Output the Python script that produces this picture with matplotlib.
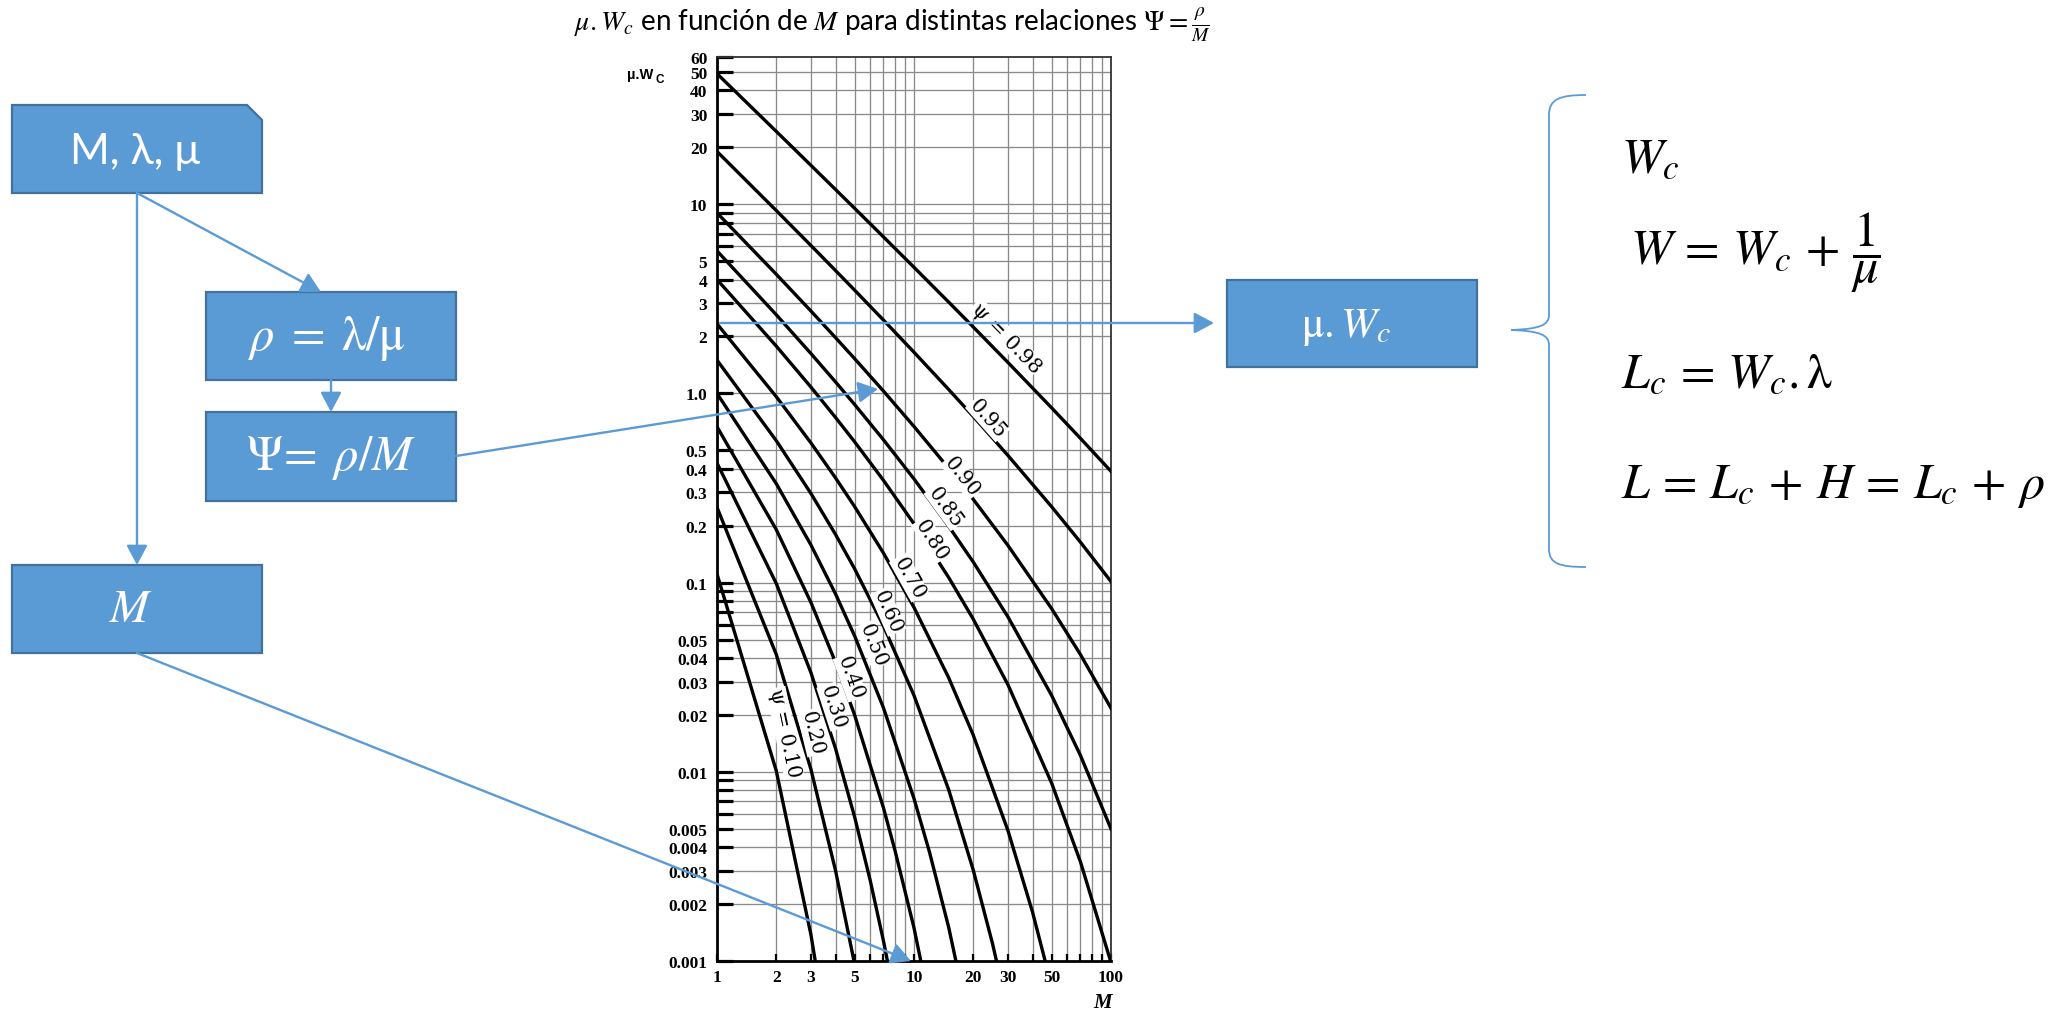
import math
import matplotlib
matplotlib.use("Agg")
import matplotlib.pyplot as plt
from matplotlib.patches import Rectangle, Polygon, PathPatch
from matplotlib.path import Path

plt.rcParams["mathtext.fontset"] = "stix"

# ---------------- data ----------------
psi_values = [0.98, 0.95, 0.90, 0.85, 0.80, 0.70, 0.60, 0.50, 0.40, 0.30, 0.20, 0.10]
psi_labels = ["ψ = 0.98", "0.95", "0.90", "0.85", "0.80", "0.70",
              "0.60", "0.50", "0.40", "0.30", "0.20", "ψ = 0.10"]

M_098 = [1, 2, 3, 4, 5, 7, 10, 15, 20, 30, 50, 70, 100]
W_098 = [49, 24.25, 16.04, 11.95, 9.503, 6.718, 4.641, 3.038, 2.243, 1.457, 0.8383, 0.5785, 0.3875]
M_095 = [1, 2, 3, 4, 5, 7, 10, 15, 20, 30, 50, 70, 100]
W_095 = [19, 9.256, 6.047, 4.457, 3.511, 2.441, 1.651, 1.049, 0.7554, 0.4697, 0.2516, 0.1635, 0.1013]
M_090 = [1, 2, 3, 4, 5, 7, 10, 15, 20, 30, 50, 70, 100]
W_090 = [9, 4.263, 2.724, 1.969, 1.525, 1.0285, 0.6687, 0.4017, 0.2754, 0.1571, 0.07277, 0.04164, 0.02170]
M_085 = [1, 2, 3, 4, 5, 7, 10, 15, 20, 30, 50, 70, 100]
W_085 = [5.667, 2.604, 1.623, 1.149, 0.8726, 0.5686, 0.3532, 0.1986, 0.1284, 0.06587, 0.02530, 0.01220, 0.004992]
M_080 = [1, 2, 3, 4, 5, 7, 10, 15, 20, 30, 50, 70, 100]
W_080 = [4, 1.778, 1.079, 0.7455, 0.5541, 0.3471, 0.2046, 0.1064, 0.06404, 0.02883, 0.008699, 0.003340, 0.000982]
M_070 = [1, 2, 3, 4, 5, 7, 10, 15, 20, 30, 40, 50]
W_070 = [2.333, 0.9608, 0.5470, 0.3572, 0.2519, 0.1432, 0.07391, 0.03141, 0.01561, 0.004884, 0.001808, 0.000735]
M_060 = [1, 2, 3, 4, 5, 7, 10, 15, 20, 25, 30]
W_060 = [1.5, 0.5625, 0.2956, 0.1794, 0.1181, 0.05895, 0.02533, 0.00804, 0.003018, 0.001243, 0.000544]
M_050 = [1, 2, 3, 4, 5, 7, 10, 12, 15, 20]
W_050 = [1.0, 0.3333, 0.1579, 0.08696, 0.05215, 0.02177, 0.007221, 0.003746, 0.001506, 0.000373]
M_040 = [1, 2, 3, 4, 5, 7, 8, 10, 12]
W_040 = [0.6667, 0.1905, 0.07843, 0.03779, 0.0199, 0.006443, 0.003853, 0.0014965, 0.000594]
M_030 = [1, 2, 3, 4, 5, 6, 7, 8]
W_030 = [0.4286, 0.0989, 0.03335, 0.01323, 0.005754, 0.002654, 0.001275, 0.000632]
M_020 = [1, 2, 3, 4, 5, 6]
W_020 = [0.25, 0.04167, 0.010274, 0.002994, 0.000958, 0.000325]
M_010 = [1, 2, 3, 4]
W_010 = [0.1111, 0.0101, 0.001372, 0.000221]

curves_M = [M_098, M_095, M_090, M_085, M_080, M_070, M_060, M_050, M_040, M_030, M_020, M_010]
curves_W = [W_098, W_095, W_090, W_085, W_080, W_070, W_060, W_050, W_040, W_030, W_020, W_010]

label_M = [29.3, 23.7, 17.5, 14.4, 12.3, 9.43, 7.38, 6.19, 4.73, 3.88, 3.03, 2.21]
label_W = [1.98, 0.738, 0.364, 0.252, 0.169, 0.1065, 0.0703, 0.047, 0.0315, 0.0221, 0.0161, 0.0161]

x_major = [1, 2, 3, 5, 10, 20, 30, 50, 100]
x_major_labels = ["1", "2", "3", "5", "10", "20", "30", "50", "100"]
x_minor = [4, 6, 7, 8, 9, 40, 60, 70, 80, 90]
x_grid = [2, 3, 4, 5, 6, 7, 8, 9, 10, 20, 30, 40, 50, 60, 70, 80, 90]

y_major = [60, 50, 40, 30, 20, 10, 5, 4, 3, 2, 1, 0.5, 0.4, 0.3, 0.2, 0.1,
           0.05, 0.04, 0.03, 0.02, 0.01, 0.005, 0.004, 0.003, 0.002, 0.001]
y_major_labels = ["60", "50", "40", "30", "20", "10", "5", "4", "3", "2", "1.0",
                  "0.5", "0.4", "0.3", "0.2", "0.1", "0.05", "0.04", "0.03", "0.02",
                  "0.01", "0.005", "0.004", "0.003", "0.002", "0.001"]
y_minor = [9, 8, 7, 6, 0.09, 0.08, 0.07, 0.06, 0.009, 0.008, 0.007, 0.006]
y_grid = [50, 40, 30, 20, 10, 9, 8, 7, 6, 5, 4, 3, 2, 1, 0.5, 0.4, 0.3, 0.2, 0.1,
          0.09, 0.08, 0.07, 0.06, 0.05, 0.04, 0.03, 0.02, 0.01, 0.009, 0.008,
          0.007, 0.006, 0.005, 0.004, 0.003, 0.002]

title_text = r"$\mu.W_c$ en función de $M$ para distintas relaciones $\Psi = \frac{\rho}{M}$"

# ---------------- figure ----------------
FW, FH = 2070, 1012
fig = plt.figure(figsize=(FW / 100, FH / 100), dpi=100)
fig.patch.set_facecolor("white")

L, R, T, B = 717, 1111, 58, 962
ax = fig.add_axes([L / FW, 1 - B / FH, (R - L) / FW, (B - T) / FH])
ax.set_xscale("log")
ax.set_yscale("log")
ax.set_xlim(1, 100)
ax.set_ylim(0.001, 60)

for v in x_grid:
    ax.axvline(v, color="#8a8a8a", lw=0.95, zorder=1)
for v in y_grid:
    ax.axhline(v, color="#8a8a8a", lw=0.95, zorder=1)

for Ms, Ws in zip(curves_M, curves_W):
    ax.plot(Ms, Ws, color="black", lw=2.4, zorder=3, solid_joinstyle="round")

# curve labels, rotated along the curve
for Ms, Ws, lab, lm, lw_ in zip(curves_M, curves_W, psi_labels, label_M, label_W):
    i = 0
    while i < len(Ms) - 2 and Ms[i + 1] < lm:
        i += 1
    p0 = ax.transData.transform((Ms[i], Ws[i]))
    p1 = ax.transData.transform((Ms[i + 1], Ws[i + 1]))
    ang = math.degrees(math.atan2(p1[1] - p0[1], p1[0] - p0[0]))
    ax.text(lm, lw_, lab, rotation=ang, rotation_mode="anchor", ha="center", va="center",
            fontsize=14.5, family="DejaVu Serif", zorder=4,
            bbox=dict(facecolor="white", edgecolor="none", pad=0.4))

ax.set_xticks(x_major)
ax.set_xticklabels(x_major_labels)
ax.set_xticks(x_minor, minor=True)
ax.set_xticklabels([], minor=True)
ax.set_yticks(y_major)
ax.set_yticklabels(y_major_labels)
ax.set_yticks(y_minor, minor=True)
ax.set_yticklabels([], minor=True)
ax.tick_params(axis="y", which="both", direction="in", length=11.5, width=2.3,
               color="black", pad=7, left=True, right=False)
ax.tick_params(axis="x", which="both", direction="in", length=5, width=1.6,
               color="black", pad=6, bottom=True, top=False)
for lab in ax.get_xticklabels() + ax.get_yticklabels():
    lab.set_fontfamily("Liberation Serif")
    lab.set_fontweight("bold")
    lab.set_fontsize(12.5)

for s in ("left", "bottom"):
    ax.spines[s].set_linewidth(2.0)
    ax.spines[s].set_color("black")
for s in ("top", "right"):
    ax.spines[s].set_linewidth(1.3)
    ax.spines[s].set_color("#333333")

# ---------------- overlay (diagram) ----------------
ov = fig.add_axes([0, 0, 1, 1], zorder=10)
ov.set_xlim(0, FW)
ov.set_ylim(FH, 0)
ov.axis("off")
ov.patch.set_visible(False)

BLUE = "#5B9BD5"
EDGE = "#41719C"

# title and axis labels
ov.text(574, 32, title_text, fontsize=20, family="Lato", va="baseline", ha="left")
ov.text(627, 79, "µ.W", fontsize=10.5, family="Liberation Sans", weight="bold",
        va="baseline", ha="left")
ov.text(656, 83, "C", fontsize=8.5, family="Liberation Sans", weight="bold",
        va="baseline", ha="left")
ov.text(1103, 1003, "M", fontsize=15, family="Liberation Serif", style="italic",
        weight="bold", va="center", ha="center")

# boxes
box_kw = dict(facecolor=BLUE, edgecolor=EDGE, lw=1.6, zorder=5)
ov.add_patch(Polygon([(12, 106), (247, 106), (262, 121), (262, 194), (12, 194)],
                     closed=True, **box_kw))
ov.add_patch(Rectangle((206, 293), 250, 88, **box_kw))
ov.add_patch(Rectangle((206, 413), 250, 89, **box_kw))
ov.add_patch(Rectangle((12, 566), 250, 88, **box_kw))
ov.add_patch(Rectangle((1227, 281), 250, 87, **box_kw))

ov.text(135, 152, "M, λ, μ", fontsize=31, family=["Lato", "DejaVu Sans"], color="white",
        ha="center", va="center", zorder=6)
ov.text(327, 338, r"$\rho\;=\;\mathrm{\lambda}/\mathrm{\mu}$", fontsize=35, color="white",
        ha="center", va="center", zorder=6)
ov.text(331, 458, r"$\Psi\!=\;\rho/M$", fontsize=35, color="white",
        ha="center", va="center", zorder=6)
ov.text(131, 610, r"$M$", fontsize=34, color="white", ha="center", va="center", zorder=6)
ov.text(1346, 327, r"$\mathrm{\mu}.W_c$", fontsize=31, color="white",
        ha="center", va="center", zorder=6)

# arrows
def arrow(p0, p1):
    ov.annotate("", xy=p1, xytext=p0, xycoords="data", textcoords="data",
                arrowprops=dict(arrowstyle="-|>,head_length=0.6,head_width=0.32",
                                color=BLUE, lw=1.7, shrinkA=0, shrinkB=0,
                                mutation_scale=20), zorder=7)

arrow((137, 194), (137, 566))
arrow((137, 194), (321, 293))
arrow((331, 381), (331, 413))
arrow((456, 457), (878, 390))
arrow((720, 324), (1214, 324))
arrow((137, 654), (911, 962))

# brace
verts = [(1586, 96), (1560, 96), (1549, 100), (1549, 116),
         (1549, 316),
         (1549, 326), (1540, 330), (1511, 331),
         (1540, 332), (1549, 336), (1549, 346),
         (1549, 550),
         (1549, 565), (1560, 568), (1586, 568)]
codes = [Path.MOVETO, Path.CURVE4, Path.CURVE4, Path.CURVE4,
         Path.LINETO,
         Path.CURVE4, Path.CURVE4, Path.CURVE4,
         Path.CURVE4, Path.CURVE4, Path.CURVE4,
         Path.LINETO,
         Path.CURVE4, Path.CURVE4, Path.CURVE4]
ov.add_patch(PathPatch(Path(verts, codes), facecolor="none", edgecolor=BLUE, lw=1.3))

# formulas on the right
ov.text(1621, 172, r"$W_c$", fontsize=36, ha="left", va="baseline")
ov.text(1630, 265, r"$W\,=\,W_c\,+\,\dfrac{1}{\mu}$", fontsize=36, ha="left", va="baseline")
ov.text(1621, 387, r"$L_c\,=\,W_c.\mathrm{\lambda}$", fontsize=36, ha="left", va="baseline")
ov.text(1621, 498, r"$L\,=\,L_c\,+\,H\,=\,L_c\,+\,\rho$", fontsize=36, ha="left", va="baseline")

fig.savefig("out.png", dpi=100, facecolor="white")
